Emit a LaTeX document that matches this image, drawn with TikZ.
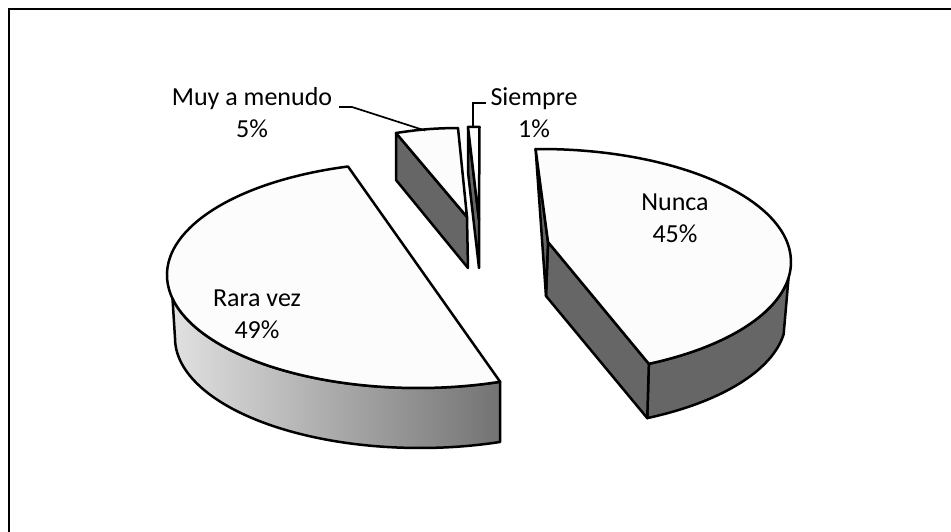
\documentclass[tikz,border=0pt]{standalone}
\usepackage{fontspec}
\setmainfont{Carlito}
\usetikzlibrary{calc}
\begin{document}
\begin{tikzpicture}[x=1pt,y=1pt,
  edge/.style={draw=black,line width=2.5pt,line join=round},
  topface/.style={edge,fill=black!1},
  darkwall/.style={edge,fill=black!60},
  leader/.style={draw=black,line width=1.7pt},
  lbl/.style={font=\fontsize{26}{32}\selectfont,align=center,inner sep=0pt}]
\useasboundingbox (0,0) rectangle (951,-532);
\fill[white] (0,0) rectangle (951,-532);
\draw[line width=2pt] (8.5,-532) -- (8.5,-9) -- (951,-9);

% Rara vez
\coordinate (cR) at (418,-275);
\coordinate (cRb) at (420,-338);
\path[edge, left color=black!12, right color=black!55]
  ($(cR)+(192:251 and 113)$) arc[start angle=192,end angle=289.1,x radius=251,y radius=113]
  -- ($(cRb)+(289.1:245 and 110)$) arc[start angle=289.1,end angle=180,x radius=245,y radius=110] -- cycle;
\path[topface] ($(cR)+(106.2:251 and 113)$) arc[start angle=106.2,end angle=289.1,x radius=251,y radius=113] -- cycle;

% Muy a menudo
\coordinate (mA) at (396,-133);
\coordinate (mAb) at (396,-180);
\coordinate (mB) at (458,-128);
\coordinate (mC) at (467,-217);
\coordinate (mCb) at (468,-268);
\path[darkwall] (mA) -- (mAb) -- (mCb) -- (mC) -- cycle;
\path[topface] (mA) to[bend left=4] (mB) -- (mC) -- cycle;

% Siempre
\coordinate (sA) at (468,-127);
\coordinate (sAb) at (468,-172);
\coordinate (sB) at (479.5,-127);
\coordinate (sC) at (479,-220);
\coordinate (sCb) at (479,-268);
\path[darkwall] (sA) -- (sAb) -- (sCb) -- (sC) -- cycle;
\path[topface] (sA) -- (sB) -- (sC) -- cycle;

% Nunca
\coordinate (cN) at (540,-262);
\coordinate (cNb) at (541,-319);
\coordinate (nApex) at (548,-242);
\coordinate (nApexB) at (546,-296);
\coordinate (nStart) at ($(cN)+(91:251 and 113)$);
\coordinate (nRim) at ($(cN)+(-64.3:251 and 113)$);
\coordinate (nRimB) at ($(cNb)+(-64.3:245 and 110)$);
\path[darkwall] ($(cN)+(-8:251 and 113)$) arc[start angle=-8,end angle=-64.3,x radius=251,y radius=113]
  -- (nRimB) arc[start angle=-64.3,end angle=-8,x radius=245,y radius=110] -- cycle;
\path[darkwall] (nApex) -- (nRim) -- (nRimB) -- (nApexB) -- cycle;
\path[darkwall] (nStart) -- (nApex) -- (nApexB) -- cycle;
\path[topface] (nApex) -- (nStart) arc[start angle=91,end angle=-64.3,x radius=251,y radius=113] -- cycle;

% labels
\node[lbl] (lblRar) at (257,-314) {Rara vez\\49\%};
\node[lbl] (lblNun) at (675,-218) {Nunca\\45\%};
\node[lbl] (lblMuy) at (252,-113) {Muy a menudo\\5\%};
\node[lbl] (lblSie) at (534,-113) {Siempre\\1\%};

% leaders
\coordinate (muyA) at (339,-107);
\coordinate (muyB) at (352,-107);
\coordinate (muyTip) at (425,-130.5);
\draw[leader] (muyA) -- (muyB) -- (muyTip);
\coordinate (sieTip) at (473,-127);
\coordinate (sieB) at (473,-103);
\coordinate (sieA) at (486,-103);
\draw[leader] (sieTip) -- (sieB) -- (sieA);
\end{tikzpicture}
\end{document}
